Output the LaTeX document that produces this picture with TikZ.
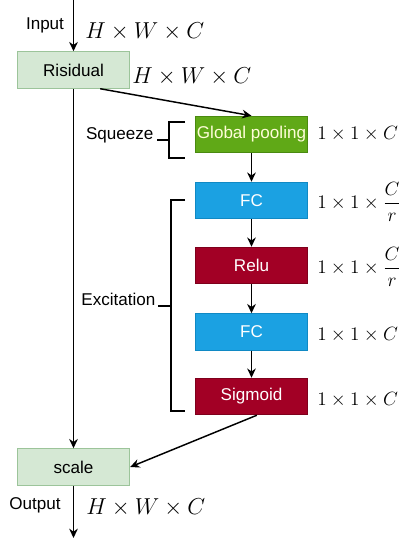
\documentclass[tikz,border=0pt]{standalone}
\usepackage{amsmath}
\usepackage{fontspec}
\newfontfamily\arialfont{Liberation Sans}
\usetikzlibrary{arrows.meta}

\definecolor{paleg}{HTML}{D5E8D4}
\definecolor{palegline}{HTML}{9CC49A}
\definecolor{poolg}{HTML}{60A917}
\definecolor{poolgline}{HTML}{4A8A10}
\definecolor{fcblue}{HTML}{1BA1E2}
\definecolor{fcbline}{HTML}{1089C4}
\definecolor{actred}{HTML}{A20025}
\definecolor{actrline}{HTML}{7E001C}

\begin{document}
\begin{tikzpicture}[x=0.75pt,y=-0.75pt,
    every node/.style={font=\arialfont\fontsize{12.8}{15}\selectfont},
    block/.style={minimum width=84.5pt,minimum height=27.5pt,inner sep=0pt,line width=0.6pt},
    plain/.style={block,draw=palegline,fill=paleg},
    pool/.style={block,draw=poolgline,fill=poolg,text=yellow!15},
    fc/.style={block,draw=fcbline,fill=fcblue,text=white},
    act/.style={block,draw=actrline,fill=actred,text=white},
    dim/.style={font=\fontsize{16.5}{19}\selectfont,anchor=west,inner sep=0pt},
    chan/.style={dim,font=\fontsize{15.8}{19}\selectfont},
    flow/.style={-{Stealth[length=7pt,width=6.5pt]},line width=1.1pt}]
    \useasboundingbox (0,0) rectangle (409,538);

    % main path
    \coordinate (in) at (73.5,0);
    \coordinate (out) at (73.5,538);
    \node[plain] (res) at (73.5,70) {Risidual};
    \node[plain] (scale) at (73.5,467) {scale};

    % SE branch
    \node[pool] (pool) at (251.5,134.5) {Global pooling};
    \node[fc] (fc1) at (251.5,200.5) {FC};
    \node[act] (relu) at (251.5,265.5) {Relu};
    \node[fc] (fc2) at (251.5,332) {FC};
    \node[act] (sig) at (251.5,396.5) {Sigmoid};

    \draw[flow] (in) -- (res);
    \draw[flow] (res) -- (scale);
    \draw[flow] (scale) -- (out);
    \draw[flow] ([xshift=20pt]res.south) -- (pool.north);
    \draw[flow] (pool) -- (fc1);
    \draw[flow] (fc1) -- (relu);
    \draw[flow] (relu) -- (fc2);
    \draw[flow] (fc2) -- (sig);
    \draw[flow] ([xshift=4pt]sig.south) -- (scale.east);

    % shapes
    \node (lin) at (45,25) {Input};
    \node (lout) at (35,505) {Output};
    \node[dim] (din) at (85,32) {$H\times W\times C$};
    \node[dim] (dres) at (132,77) {$H\times W\times C$};
    \node[dim] (dout) at (86,508) {$H\times W\times C$};
    \node[chan] (dpool) at (317,134) {$1\times 1\times C$};
    \node[chan] (dfc1) at (317,202) {$1\times 1\times \dfrac{C}{r}$};
    \node[chan] (drelu) at (317,267) {$1\times 1\times \dfrac{C}{r}$};
    \node[chan] (dfc2) at (317,335) {$1\times 1\times C$};
    \node[chan] (dsig) at (317,400) {$1\times 1\times C$};

    % brackets
    \draw[line width=1pt] (185,122) -- (169,122) -- (169,158) -- (185,158);
    \draw[line width=1pt] (169,140) -- (157,140);
    \node[anchor=base east,inner sep=1pt] (sq) at (155,140) {Squeeze};
    \draw[line width=1pt] (185,200) -- (171,200) -- (171,411) -- (185,411);
    \draw[line width=1pt] (171,306) -- (158,306);
    \node[anchor=base east,inner sep=1pt] (ex) at (157,305) {Excitation};
\end{tikzpicture}
\end{document}
